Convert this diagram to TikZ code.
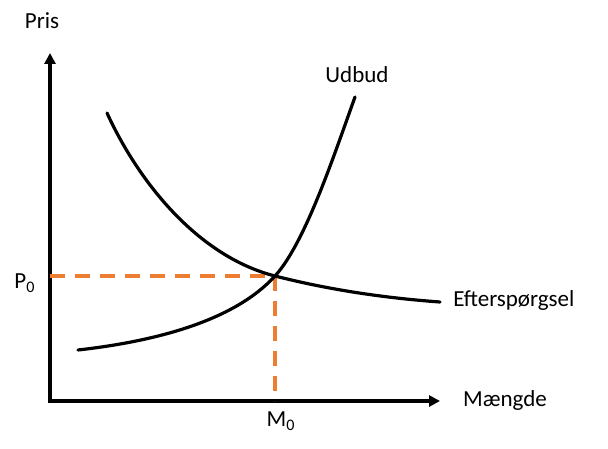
\documentclass[tikz,border=0pt]{standalone}
\usepackage{fontspec}
\setmainfont{Carlito}
\usetikzlibrary{arrows.meta,positioning}
\definecolor{offorange}{HTML}{ED7D31}

\begin{document}
\begin{tikzpicture}[
  x=0.5pt, y=-0.5pt,
  font=\fontsize{11.5}{14}\selectfont,
  axis/.style={line width=2pt, -{Triangle[length=5.5pt, width=5.5pt]}},
  curve/.style={line width=1.6pt, line cap=round},
  guide/.style={line width=2pt, draw=offorange, dash pattern=on 7.5pt off 5pt},
  lbl/.style={inner sep=1pt},
]
\useasboundingbox (0,0) rectangle (608,448);

% axes
\coordinate (origin) at (50,401);
\coordinate (ytop) at (50,53);
\coordinate (xend) at (440,401);
\draw[axis] ([yshift=-1pt]origin) -- (ytop);
\draw[axis] ([xshift=-1pt]origin) -- (xend);

% equilibrium
\coordinate (eq) at (275,276);
\coordinate (peq) at (50,276);
\coordinate (meq) at (275,401);
\draw[guide] (peq) -- (eq);
\draw[guide] (eq) -- (meq);

% curves
\coordinate (dstart) at (107,113);
\coordinate (dend) at (440,302);
\coordinate (sstart) at (78,350);
\coordinate (send) at (355,97);
\draw[curve] (dstart) .. controls (140,185) and (200,257) .. (eq)
  .. controls (330,290) and (385,298) .. (dend);
\draw[curve] (sstart) .. controls (158,341) and (235,320) .. (eq)
  .. controls (305,243) and (333,158) .. (send);

% labels
\node[lbl] (price) at (42,21) {Pris};
\node[lbl] (quantity) at (505,400) {Mængde};
\node[lbl] (supply) at (357,75) {Udbud};
\node[lbl, anchor=west] (demand) at (451,300) {Efterspørgsel};
\node[lbl] (p0) at (25,283) {P\textsubscript{0}};
\node[lbl] (m0) at (281,421) {M\textsubscript{0}};
\end{tikzpicture}
\end{document}
